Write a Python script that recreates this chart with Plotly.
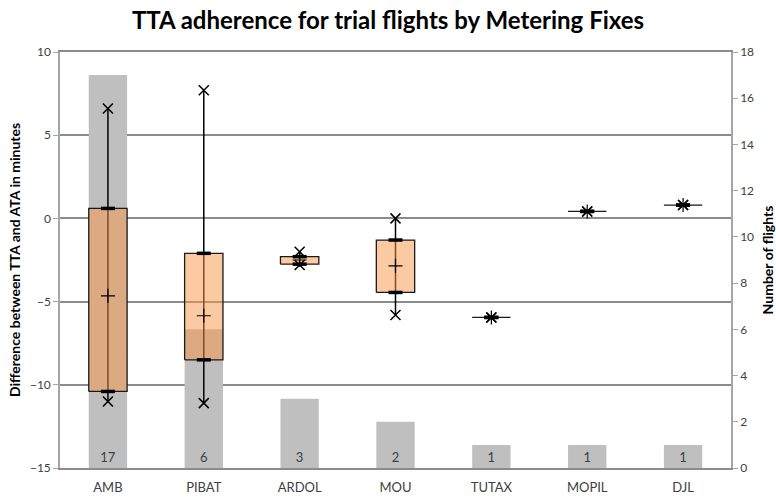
import plotly.graph_objects as go

categories = ["AMB", "PIBAT", "ARDOL", "MOU", "TUTAX", "MOPIL", "DJL"]
flights = [17, 6, 3, 2, 1, 1, 1]
max_vals = [6.6, 7.7, -2.0, 0.0, -5.95, 0.42, 0.8]
q3_vals = [0.6, -2.1, -2.3, -1.3, -5.95, 0.42, 0.8]
mean_vals = [-4.65, -5.85, -2.5, -2.85, -5.95, 0.42, 0.8]
q1_vals = [-10.4, -8.5, -2.75, -4.45, -5.95, 0.42, 0.8]
min_vals = [-11.0, -11.1, -2.8, -5.8, -5.95, 0.42, 0.8]

left_ticks = [-15, -10, -5, 0, 5, 10]
right_ticks = [0, 2, 4, 6, 8, 10, 12, 14, 16, 18]

xs = list(range(len(categories)))
half = 0.2  # half box width in category units

FONT = "Lato"
fig = go.Figure()

# grey bars: number of flights (right axis, main y)
fig.add_trace(go.Bar(
    x=xs, y=flights, width=2 * half, yaxis="y",
    marker=dict(color="#bfbfbf", line=dict(width=0)),
    text=[str(v) for v in flights], textposition="inside",
    insidetextanchor="start", textangle=0,
    textfont=dict(family=FONT, size=13, color="#404040"),
    hoverinfo="skip", showlegend=False,
))

# whiskers (min to max)
wx, wy = [], []
for i in xs:
    wx += [i, i, None]
    wy += [min_vals[i], max_vals[i], None]
fig.add_trace(go.Scatter(x=wx, y=wy, yaxis="y2", mode="lines",
                         line=dict(color="black", width=1.5),
                         hoverinfo="skip", showlegend=False))

# boxes (q1 to q3), semi-transparent orange
bx, by = [], []
for i in xs:
    bx += [i - half, i + half, i + half, i - half, i - half, None]
    by += [q1_vals[i], q1_vals[i], q3_vals[i], q3_vals[i], q1_vals[i], None]
fig.add_trace(go.Scatter(x=bx, y=by, yaxis="y2", mode="lines", fill="toself",
                         fillcolor="rgba(247,150,70,0.5)",
                         line=dict(color="#1a1a1a", width=1.3),
                         hoverinfo="skip", showlegend=False))

# caps at q1 and q3
fig.add_trace(go.Scatter(x=xs + xs, y=q1_vals + q3_vals, yaxis="y2", mode="markers",
                         marker=dict(symbol="line-ew", size=10,
                                     line=dict(color="black", width=3.5)),
                         hoverinfo="skip", showlegend=False))

# min / max markers
fig.add_trace(go.Scatter(x=xs + xs, y=min_vals + max_vals, yaxis="y2", mode="markers",
                         marker=dict(symbol="x-thin", size=10,
                                     line=dict(color="black", width=1.5)),
                         hoverinfo="skip", showlegend=False))

# mean markers
fig.add_trace(go.Scatter(x=xs, y=mean_vals, yaxis="y2", mode="markers",
                         marker=dict(symbol="cross-thin", size=10,
                                     line=dict(color="black", width=1.2)),
                         hoverinfo="skip", showlegend=False))

tickfont = dict(family=FONT, size=12, color="#404040")
fig.update_layout(
    width=776, height=497,
    margin=dict(l=60, r=45, t=52, b=29),
    paper_bgcolor="white", plot_bgcolor="white",
    title=dict(text="<b>TTA adherence for trial flights by Metering Fixes</b>",
               x=0.5, xanchor="center", y=1 - 21 / 497, yanchor="middle",
               font=dict(family=FONT, size=24, color="black")),
    barmode="overlay",
    showlegend=False,
    xaxis=dict(range=[-0.5, len(categories) - 0.5], tickvals=xs, ticktext=categories,
               showgrid=False, zeroline=False, showline=True, mirror=True,
               linecolor="#8c8c8c", linewidth=1.5, ticks="", automargin=False,
               ticklabelstandoff=7,
               tickfont=dict(family=FONT, size=13, color="#404040")),
    yaxis=dict(range=[0, 18], tickvals=right_ticks, side="right",
               showgrid=False, zeroline=False, showline=True, automargin=False,
               linecolor="#a6a6a6", linewidth=1.5,
               ticks="outside", ticklen=5, tickcolor="#a6a6a6",
               tickfont=tickfont,
               title=dict(text="<b>Number of flights</b>", standoff=10,
                          font=dict(family=FONT, size=14, color="black"))),
    yaxis2=dict(range=[-15, 10], tickvals=left_ticks, side="left", overlaying="y",
                showgrid=True, gridcolor="#8c8c8c", gridwidth=1.5, automargin=False,
                zeroline=False, showline=True,
                linecolor="#a6a6a6", linewidth=1.5,
                ticks="outside", ticklen=5, tickcolor="#a6a6a6",
                tickfont=tickfont,
                title=dict(text="<b>Difference between TTA and ATA in minutes</b>", standoff=6,
                           font=dict(family=FONT, size=14, color="black"))),
)

fig.write_html("out.html", config={"displayModeBar": False},
               post_script="document.body.style.margin='0';")
